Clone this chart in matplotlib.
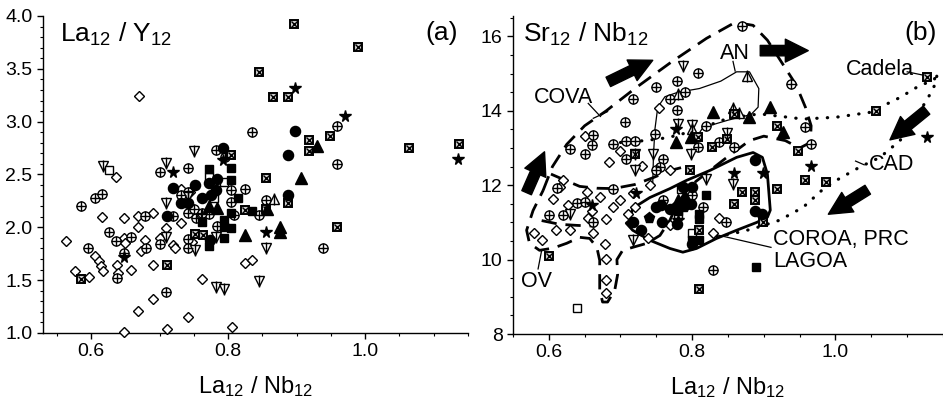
import matplotlib
matplotlib.use("Agg")
import matplotlib.pyplot as plt
from matplotlib.ticker import MultipleLocator, FormatStrFormatter

plt.rcParams["font.family"] = ["Liberation Sans", "DejaVu Sans"]
plt.rcParams["mathtext.default"] = "regular"

# ---------------- panel (a): La12/Y12 vs La12/Nb12 ----------------
a_diamond = [(0.670, 3.24), (0.732, 2.36), (0.616, 2.10), (0.564, 1.87), (0.576, 1.59),
             (0.597, 1.53), (0.606, 1.73), (0.612, 1.68), (0.615, 1.63), (0.617, 1.59),
             (0.638, 1.64), (0.639, 1.57), (0.648, 2.09), (0.648, 1.90), (0.650, 1.85),
             (0.658, 1.60), (0.669, 2.11), (0.690, 2.14), (0.669, 2.00), (0.679, 1.88),
             (0.673, 1.78), (0.690, 1.64), (0.700, 1.90), (0.709, 1.99), (0.719, 1.83),
             (0.723, 1.80), (0.731, 2.04), (0.747, 1.86), (0.825, 1.66), (0.835, 1.69),
             (0.762, 1.51), (0.669, 1.21), (0.690, 1.32), (0.648, 1.01), (0.711, 1.04),
             (0.742, 1.15), (0.805, 1.06), (0.637, 2.48), (0.745, 2.33)]
a_oplus = [(0.959, 2.96), (0.835, 2.90), (0.959, 2.60), (0.782, 2.73), (0.795, 2.67),
           (0.700, 2.52), (0.741, 2.56), (0.742, 2.33), (0.731, 2.31), (0.606, 2.28),
           (0.616, 2.32), (0.585, 2.20), (0.627, 1.96), (0.595, 1.80), (0.636, 1.87),
           (0.638, 1.52), (0.658, 1.91), (0.648, 1.76), (0.679, 2.11), (0.680, 1.80),
           (0.700, 1.84), (0.720, 2.11), (0.709, 1.39), (0.742, 2.14), (0.742, 1.89),
           (0.742, 1.80), (0.753, 2.09), (0.760, 2.13), (0.772, 2.13), (0.784, 2.01),
           (0.804, 2.24), (0.808, 2.12), (0.825, 2.36), (0.845, 2.12), (0.855, 2.26),
           (0.939, 1.80), (0.804, 2.35), (0.750, 2.17), (0.762, 2.14)]
a_tri_down = [(0.751, 2.72), (0.617, 2.58), (0.709, 2.61), (0.709, 2.23), (0.709, 1.91),
              (0.752, 1.79), (0.782, 1.91), (0.855, 1.80), (0.845, 1.49), (0.782, 1.44),
              (0.794, 1.42), (0.742, 2.30)]
a_tri_up = [(0.867, 2.27)]
a_open_sq = [(0.627, 2.54), (0.772, 2.48), (0.794, 2.43), (0.779, 2.28)]
a_xsq = [(0.896, 3.92), (0.990, 3.71), (0.845, 3.47), (0.865, 3.23), (0.888, 3.23),
         (0.918, 2.83), (0.949, 2.86), (0.918, 2.72), (1.064, 2.75), (1.137, 2.79),
         (0.855, 2.47), (0.804, 2.68), (0.888, 2.23), (0.825, 2.16), (0.855, 2.17),
         (0.752, 1.94), (0.763, 1.93), (0.959, 2.00), (0.585, 1.51), (0.711, 1.64)]
a_star = [(0.897, 3.32), (0.971, 3.05), (1.136, 2.65), (0.793, 2.64), (0.720, 2.52),
          (0.855, 1.96), (0.648, 1.72)]
a_fcirc = [(0.897, 2.91), (0.888, 2.68), (0.793, 2.75), (0.784, 2.46), (0.772, 2.42),
           (0.752, 2.40), (0.720, 2.37), (0.731, 2.23), (0.742, 2.23), (0.762, 2.28),
           (0.775, 2.31), (0.711, 2.11), (0.773, 1.88), (0.888, 2.31), (0.782, 2.35)]
a_fsq = [(0.772, 2.55), (0.804, 2.56), (0.804, 2.45), (0.762, 2.05), (0.772, 1.82),
         (0.794, 2.07), (0.794, 1.90), (0.804, 1.99), (0.804, 2.14), (0.815, 2.28),
         (0.835, 2.15), (0.794, 2.00)]
a_ftri = [(0.929, 2.77), (0.907, 2.47), (0.772, 2.20), (0.784, 2.18), (0.825, 1.93),
          (0.857, 2.17), (0.876, 2.00), (0.876, 1.96)]

# ---------------- panel (b): Sr12/Nb12 vs La12/Nb12 ----------------
b_diamond = [(0.754, 14.09), (0.699, 12.91), (0.650, 13.33), (0.684, 12.62), (0.730, 12.53),
             (0.769, 12.40), (0.620, 12.13), (0.615, 11.95), (0.606, 11.64), (0.627, 11.46),
             (0.580, 10.72), (0.590, 10.52), (0.610, 10.81), (0.630, 10.81), (0.653, 11.82),
             (0.671, 11.68), (0.655, 11.12), (0.662, 10.72), (0.678, 10.43), (0.680, 10.01),
             (0.680, 9.45), (0.680, 9.09), (0.680, 11.10), (0.690, 11.41), (0.700, 11.61),
             (0.718, 11.79), (0.710, 11.24), (0.720, 11.42), (0.738, 10.59), (0.769, 10.92),
             (0.829, 10.72), (0.838, 11.12), (0.741, 12.00), (0.660, 11.30)]
b_oplus = [(0.869, 16.28), (0.808, 15.01), (0.938, 14.72), (0.779, 14.81), (0.749, 14.63),
           (0.769, 14.32), (0.790, 14.52), (0.718, 14.32), (0.779, 14.02), (0.957, 13.56),
           (0.966, 13.11), (0.706, 13.69), (0.820, 13.60), (0.808, 13.02), (0.838, 13.16),
           (0.859, 13.02), (0.748, 13.38), (0.708, 13.20), (0.720, 13.20), (0.689, 13.12),
           (0.661, 13.34), (0.660, 13.07), (0.629, 12.98), (0.650, 12.85), (0.708, 12.71),
           (0.759, 12.71), (0.755, 12.49), (0.750, 12.40), (0.611, 11.93), (0.689, 11.90),
           (0.600, 11.21), (0.620, 11.21), (0.640, 11.52), (0.650, 11.55), (0.662, 11.01),
           (0.759, 11.59), (0.800, 11.73), (0.815, 11.41), (0.847, 11.01), (0.829, 9.72)]
b_tri_down = [(0.787, 15.21), (0.780, 13.65), (0.800, 13.63), (0.848, 13.40), (0.799, 12.84),
              (0.720, 12.84), (0.720, 12.40), (0.746, 12.85), (0.630, 11.24), (0.718, 10.52),
              (0.857, 12.03), (0.819, 12.18)]
b_tri_up = [(0.876, 14.94), (0.780, 14.45), (0.857, 14.09), (0.866, 13.95), (0.800, 13.50)]
b_xsq = [(0.859, 13.92), (1.057, 14.00), (1.127, 14.90), (0.918, 13.60), (0.948, 12.93),
         (0.808, 13.31), (0.827, 13.02), (0.848, 13.25), (0.720, 12.83), (0.797, 12.40),
         (0.957, 12.13), (0.987, 12.08), (0.600, 10.10), (0.810, 10.81), (0.869, 11.82),
         (0.859, 11.50), (0.888, 11.82), (0.888, 11.61), (0.918, 11.91), (0.899, 11.01),
         (0.810, 9.20)]
b_star = [(0.966, 12.53), (1.127, 13.31), (0.778, 13.51), (0.859, 12.33), (0.899, 12.33),
          (0.660, 11.46), (0.780, 11.06), (0.722, 11.80)]
b_fcirc = [(0.887, 12.68), (0.718, 11.01), (0.729, 10.81), (0.750, 11.41), (0.758, 11.01),
           (0.769, 11.37), (0.778, 11.41), (0.779, 10.97), (0.799, 11.50), (0.787, 11.94),
           (0.800, 11.95), (0.800, 10.43), (0.888, 11.32), (0.898, 11.24), (0.757, 11.46),
           (0.790, 11.46)]
b_fsq = [(0.787, 11.41), (0.810, 11.24), (0.810, 11.09), (0.820, 11.73), (0.800, 10.52),
         (0.810, 10.52), (0.889, 9.81), (0.780, 11.30)]
b_ftri = [(0.829, 13.96), (0.908, 14.11), (0.879, 13.83), (0.927, 13.42), (0.778, 13.16),
          (0.799, 13.29), (0.790, 11.71), (0.780, 11.60)]
b_open_sq = [(0.640, 8.71), (0.784, 11.91), (0.780, 11.23), (0.800, 10.72)]
b_fpent = [(0.740, 11.12)]

# field outlines in panel (b)
cova_ov_line = [(0.592, 11.86), (0.605, 12.5), (0.625, 13.1), (0.650, 13.6), (0.680, 14.0),
                (0.720, 14.6), (0.770, 15.3), (0.820, 15.95), (0.860, 16.38), (0.885, 16.3),
                (0.905, 15.9), (0.925, 15.3), (0.945, 14.7), (0.958, 14.1), (0.966, 13.6),
                (0.965, 13.15), (0.950, 13.0), (0.930, 13.2), (0.900, 13.32), (0.880, 13.2),
                (0.866, 13.0), (0.845, 12.7), (0.825, 12.4), (0.805, 12.1), (0.790, 11.8),
                (0.778, 11.45), (0.769, 11.06), (0.755, 10.65), (0.737, 10.44), (0.717, 10.33),
                (0.703, 10.25), (0.695, 10.0), (0.696, 9.6), (0.692, 9.18), (0.682, 8.86),
                (0.675, 8.86), (0.671, 9.18), (0.671, 9.98), (0.667, 10.33), (0.657, 10.57),
                (0.643, 10.6), (0.625, 10.44), (0.606, 10.31), (0.587, 10.25), (0.573, 10.44),
                (0.569, 10.79), (0.578, 11.32), (0.592, 11.86)]
cova_inner_line = [(0.603, 12.3), (0.615, 12.2), (0.643, 11.97), (0.667, 11.92), (0.690, 11.91),
                   (0.720, 12.02), (0.745, 12.2), (0.770, 12.4), (0.790, 12.5)]
ov_inner_line = [(0.590, 11.05), (0.615, 10.95), (0.640, 10.92), (0.665, 10.90)]
an_line = [(0.745, 12.05), (0.746, 12.8), (0.748, 13.5), (0.752, 14.1), (0.762, 14.38),
           (0.780, 14.5), (0.810, 14.6), (0.840, 14.8), (0.862, 15.05), (0.880, 15.05),
           (0.893, 14.6), (0.892, 14.1), (0.882, 13.9), (0.850, 13.75), (0.815, 13.55),
           (0.808, 13.35)]
coroa_line = [(0.713, 11.06), (0.717, 11.38), (0.741, 11.67), (0.769, 11.91), (0.792, 12.13),
              (0.825, 12.40), (0.862, 12.75), (0.885, 12.88), (0.898, 12.75), (0.905, 12.30),
              (0.909, 11.33), (0.905, 11.14), (0.890, 11.00), (0.862, 10.79), (0.834, 10.57),
              (0.806, 10.30), (0.787, 10.20), (0.769, 10.30), (0.741, 10.52), (0.717, 10.79),
              (0.708, 10.98), (0.713, 11.06)]
cad_line = [(0.700, 13.15), (0.734, 13.20), (0.766, 13.28), (0.800, 13.45), (0.850, 13.80),
            (0.894, 13.92), (0.955, 13.78), (1.001, 13.83), (1.048, 13.96), (1.090, 14.36),
            (1.113, 14.63), (1.138, 14.85), (1.142, 15.03), (1.140, 14.75), (1.127, 14.27),
            (1.108, 13.74), (1.090, 13.20), (1.062, 12.75), (1.034, 12.49), (1.001, 12.13),
            (0.983, 11.90), (0.955, 11.41), (0.922, 11.06), (0.885, 10.83), (0.857, 10.70),
            (0.830, 10.61)]

# big trend arrows (tail, tip)
arrows_b = [((0.569, 11.80), (0.594, 12.90)), ((0.683, 14.78), (0.745, 15.36)),
            ((0.895, 15.62), (0.962, 15.62)), ((1.127, 14.02), (1.076, 13.22)),
            ((1.045, 11.88), (0.990, 11.22))]


def pts(ax, data, marker, ms, face="white", over=None, over_ms=None, mew=1.0):
    xs = [p[0] for p in data]
    ys = [p[1] for p in data]
    ax.plot(xs, ys, ls="none", marker=marker, ms=ms, mfc=face, mec="black", mew=mew,
            clip_on=False, zorder=4)
    if over:
        ax.plot(xs, ys, ls="none", marker=over, ms=over_ms or ms, mec="black", mew=1.0,
                clip_on=False, zorder=5)


def draw_groups(ax, diamond, oplus, tri_down, tri_up, open_sq, xsq, star, fcirc, fsq, ftri):
    pts(ax, diamond, "D", 5.3)
    pts(ax, oplus, "o", 6.6, over="+", over_ms=6.6)
    pts(ax, tri_down, "v", 7.5, over="|", over_ms=9.0)
    pts(ax, tri_up, "^", 7.5, over="|", over_ms=9.0)
    pts(ax, open_sq, "s", 5.8)
    pts(ax, xsq, "s", 5.8, face="0.8", over="x", over_ms=4.0, mew=1.4)
    pts(ax, star, "*", 8.5, face="black")
    pts(ax, fcirc, "o", 7.3, face="black")
    pts(ax, fsq, "s", 6.3, face="black")
    pts(ax, ftri, "^", 8.0, face="black")


def style_axes(ax):
    for s in ("top", "right"):
        ax.spines[s].set_visible(False)
    for s in ("left", "bottom"):
        ax.spines[s].set_linewidth(1.0)
    ax.tick_params(which="major", direction="out", length=4, width=1, labelsize=14)
    ax.tick_params(which="minor", direction="out", length=2.5, width=0.8)
    ax.xaxis.set_major_locator(MultipleLocator(0.2))
    ax.xaxis.set_minor_locator(MultipleLocator(0.05))
    ax.xaxis.set_major_formatter(FormatStrFormatter("%.1f"))
    ax.set_xlabel("La$_{12}$ / Nb$_{12}$", fontsize=17, labelpad=10)


fig = plt.figure(figsize=(9.43, 4.03), dpi=100)

# panel (a)
ax1 = fig.add_axes([0.0456, 0.1737, 0.4507, 0.7866])
draw_groups(ax1, a_diamond, a_oplus, a_tri_down, a_tri_up, a_open_sq, a_xsq,
            a_star, a_fcirc, a_fsq, a_ftri)
style_axes(ax1)
ax1.set_xlim(0.53, 1.15)
ax1.set_ylim(1.0, 4.0)
ax1.yaxis.set_major_locator(MultipleLocator(0.5))
ax1.yaxis.set_minor_locator(MultipleLocator(0.1))
ax1.yaxis.set_major_formatter(FormatStrFormatter("%.1f"))
ax1.text(0.04, 0.985, "La$_{12}$ / Y$_{12}$", transform=ax1.transAxes, fontsize=19,
         va="top", ha="left")
ax1.text(0.975, 0.985, "(a)", transform=ax1.transAxes, fontsize=19, va="top", ha="right")

# panel (b)
ax2 = fig.add_axes([0.544, 0.1712, 0.456, 0.789])


def ln(path, **kw):
    ax2.plot([p[0] for p in path], [p[1] for p in path], color="black", **kw)


ln(cova_ov_line, lw=2.0, ls=(0, (5.5, 3.2)), zorder=2)
ln(cova_inner_line, lw=2.0, ls=(0, (5.5, 3.2)), zorder=2)
ln(ov_inner_line, lw=2.0, ls=(0, (5.5, 3.2)), zorder=2)
ln(an_line, lw=0.9, zorder=2)
ln(coroa_line, lw=2.0, zorder=2)
ln(cad_line, lw=2.3, ls=(0, (0.1, 3.2)), dash_capstyle="round", zorder=2)

draw_groups(ax2, b_diamond, b_oplus, b_tri_down, b_tri_up, b_open_sq, b_xsq,
            b_star, b_fcirc, b_fsq, b_ftri)
pts(ax2, b_fpent, "p", 8.0, face="black")

for tail, tip in arrows_b:
    ax2.annotate("", xy=tip, xytext=tail,
                 arrowprops=dict(arrowstyle="simple,head_width=1.1,head_length=1.1,tail_width=0.5",
                                 fc="black", ec="black", mutation_scale=15, shrinkA=0, shrinkB=0))

style_axes(ax2)
ax2.set_xlim(0.55, 1.15)
ax2.set_ylim(8, 16.55)
ax2.yaxis.set_major_locator(MultipleLocator(2))
ax2.yaxis.set_minor_locator(MultipleLocator(0.5))
ax2.text(0.023, 0.985, "Sr$_{12}$ / Nb$_{12}$", transform=ax2.transAxes, fontsize=19,
         va="top", ha="left")
ax2.text(0.985, 0.985, "(b)", transform=ax2.transAxes, fontsize=19, va="top", ha="right")

lab = dict(fontsize=15.5, color="black")
ax2.text(0.860, 15.55, "AN", ha="center", va="center", **lab)
ax2.plot([0.857, 0.860], [15.33, 15.07], color="black", lw=0.9)
ax2.text(0.620, 14.35, "COVA", ha="center", va="center", **lab)
ax2.plot([0.655, 0.672], [14.2, 13.85], color="black", lw=0.9)
ax2.plot([0.662, 0.682], [13.80, 13.98], color="black", lw=0.9)
ax2.text(1.062, 15.1, "Cadela", ha="center", va="center", **lab)
ax2.plot([1.100, 1.125], [15.05, 14.95], color="black", lw=0.9)
ax2.text(1.078, 12.55, "CAD", ha="center", va="center", **lab)
ax2.plot([1.040, 1.028], [12.55, 12.65], color="black", lw=0.9)
ax2.text(0.583, 9.4, "OV", ha="center", va="center", **lab)
ax2.plot([0.585, 0.590], [9.75, 10.25], color="black", lw=0.9)
ax2.text(0.913, 10.55, "COROA, PRC", ha="left", va="center", **lab)
ax2.text(0.913, 9.95, "LAGOA", ha="left", va="center", **lab)
ax2.plot([0.910, 0.836], [10.33, 10.66], color="black", lw=0.9)

fig.savefig("out.png", dpi=100)
